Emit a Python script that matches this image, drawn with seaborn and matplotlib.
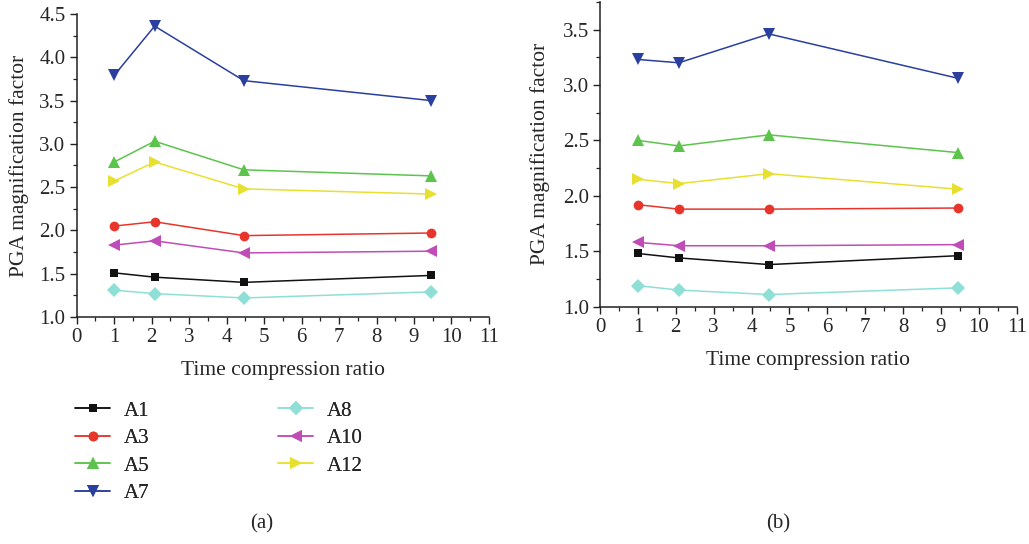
import numpy as np
import pandas as pd
import matplotlib
matplotlib.use("Agg")
import matplotlib.pyplot as plt
from matplotlib.ticker import MultipleLocator, FormatStrFormatter
from matplotlib.lines import Line2D
import seaborn as sns

# Time compression ratios shared by both panels
ratios = [1.0, 2.08, 4.46, 9.45]

series_names = ["A1", "A3", "A5", "A7", "A8", "A10", "A12"]

# Panel (a): PGA magnification factor per measuring point
a_A1 = [1.51, 1.46, 1.40, 1.48]
a_A3 = [2.05, 2.10, 1.94, 1.97]
a_A5 = [2.79, 3.03, 2.70, 2.63]
a_A7 = [3.79, 4.36, 3.73, 3.50]
a_A8 = [1.31, 1.27, 1.22, 1.29]
a_A10 = [1.83, 1.88, 1.74, 1.76]
a_A12 = [2.57, 2.79, 2.48, 2.42]

# Panel (b)
b_A1 = [1.48, 1.44, 1.38, 1.46]
b_A3 = [1.92, 1.88, 1.88, 1.89]
b_A5 = [2.50, 2.45, 2.55, 2.39]
b_A7 = [3.23, 3.20, 3.46, 3.06]
b_A8 = [1.19, 1.15, 1.11, 1.17]
b_A10 = [1.58, 1.55, 1.55, 1.56]
b_A12 = [2.15, 2.11, 2.20, 2.06]

colors = {
    "A1": "#111111",
    "A3": "#e8352b",
    "A5": "#5cc44c",
    "A7": "#2a3f9e",
    "A8": "#8ee0d6",
    "A10": "#c04cb8",
    "A12": "#e8e030",
}
markers = {
    "A1": "s",
    "A3": "o",
    "A5": "^",
    "A7": "v",
    "A8": "D",
    "A10": "<",
    "A12": ">",
}
marker_sizes = {"A1": 6, "A3": 7, "A5": 8, "A7": 8, "A8": 7, "A10": 8, "A12": 8}


def long_form(values):
    rows = []
    for name, vals in zip(series_names, values):
        for r, v in zip(ratios, vals):
            rows.append({"ratio": r, "pga": v, "series": name})
    return pd.DataFrame(rows)


df_a = long_form([a_A1, a_A3, a_A5, a_A7, a_A8, a_A10, a_A12])
df_b = long_form([b_A1, b_A3, b_A5, b_A7, b_A8, b_A10, b_A12])

sns.set_theme(style="ticks")
plt.rcParams["font.family"] = ["Liberation Serif", "DejaVu Serif"]

W, H = 1029, 544
fig = plt.figure(figsize=(W / 100, H / 100), dpi=100)
ax_a = fig.add_axes([0.0745, 0.4173, 0.4007, 0.5570])
ax_b = fig.add_axes([0.5831, 0.4362, 0.4050, 0.5605])

TICK_FS = 15
LABEL_FS = 15.5


def draw(ax, df, ylim, ylabel_x):
    for name in series_names:
        sub = df[df["series"] == name]
        sns.lineplot(
            data=sub, x="ratio", y="pga", ax=ax, color=colors[name],
            marker=markers[name], markersize=marker_sizes[name],
            markeredgewidth=0, linewidth=1.1, legend=False,
        )
    ax.set_xlim(0, 11)
    ax.set_ylim(*ylim)
    ax.xaxis.set_major_locator(MultipleLocator(1))
    ax.xaxis.set_minor_locator(MultipleLocator(0.5))
    ax.yaxis.set_major_locator(MultipleLocator(0.5))
    ax.yaxis.set_minor_locator(MultipleLocator(0.25))
    ax.yaxis.set_major_formatter(FormatStrFormatter("%.1f"))
    ax.tick_params(which="major", direction="out", length=5, width=1.0,
                   labelsize=TICK_FS, color="#222222", pad=3)
    ax.tick_params(which="minor", direction="out", length=3, width=0.9,
                   color="#222222")
    for side in ("top", "right"):
        ax.spines[side].set_visible(False)
    for side in ("left", "bottom"):
        ax.spines[side].set_linewidth(1.1)
        ax.spines[side].set_color("#222222")
    ax.set_xlabel("Time compression ratio", fontsize=LABEL_FS, labelpad=10)
    ax.set_ylabel("PGA magnification factor", fontsize=LABEL_FS)
    # anchor the y label at a given figure x pixel
    bbox = ax.get_position()
    ax.yaxis.set_label_coords((ylabel_x / W - bbox.x0) / bbox.width, 0.5)


draw(ax_a, df_a, (1.0, 4.5), 29)
draw(ax_b, df_b, (1.0, 3.75), 550)

# Legend: two columns beneath panel (a)
handles = {
    n: Line2D([], [], color=colors[n], marker=markers[n],
              markersize=marker_sizes[n], markeredgewidth=0, linewidth=1.1)
    for n in series_names
}
col1 = ["A1", "A3", "A5", "A7"]
col2 = ["A8", "A10", "A12"]
for names, x_px in ((col1, 75), (col2, 278)):
    leg = fig.legend(
        [handles[n] for n in names], names, loc="upper left",
        bbox_to_anchor=(x_px / W, 1 - 401 / H), frameon=False,
        fontsize=15, handlelength=1.7, handletextpad=0.65,
        labelspacing=0.38, borderpad=0, borderaxespad=0,
    )
    fig.add_artist(leg)

fig.text(262 / W, 1 - 524 / H, "(a)", ha="center", va="center", fontsize=15)
fig.text(778 / W, 1 - 524 / H, "(b)", ha="center", va="center", fontsize=15)

fig.savefig("out.png", dpi=100)
